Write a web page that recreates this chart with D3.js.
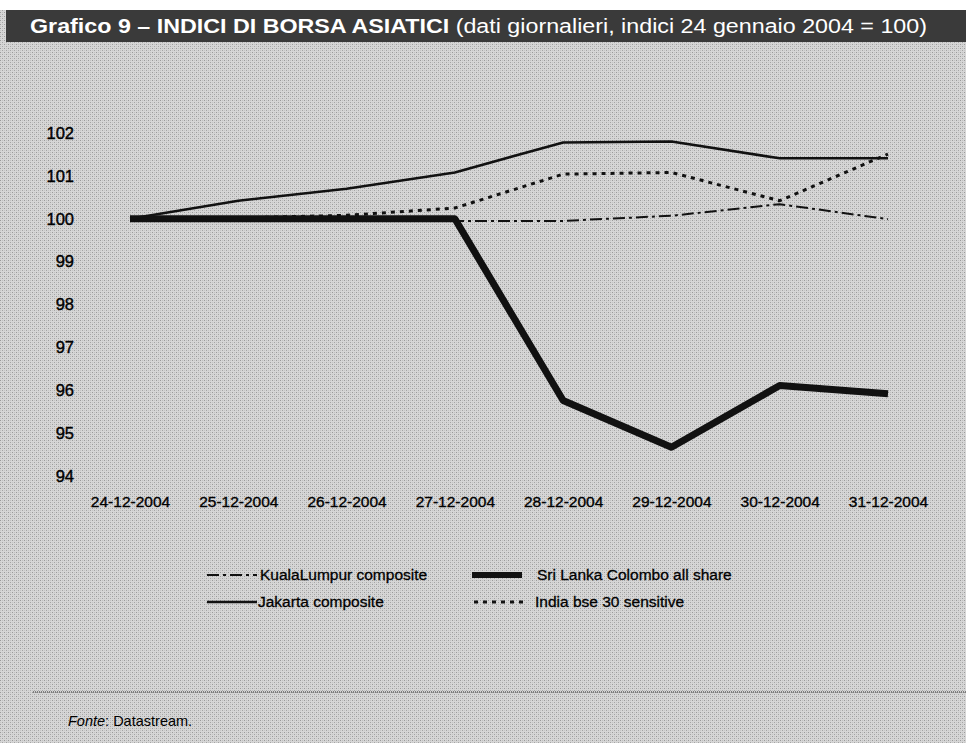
<!DOCTYPE html>
<html>
<head>
<meta charset="utf-8">
<script src="https://cdn.jsdelivr.net/npm/d3@7"></script>
<style>
  html, body { margin: 0; padding: 0; background: #ffffff; }
  svg { display: block; font-family: "Liberation Sans", Arial, Helvetica, sans-serif; }
</style>
</head>
<body>
<svg id="chart" width="966" height="743"></svg>
<script>
// ---- data ----
const dates = ["24-12-2004", "25-12-2004", "26-12-2004", "27-12-2004", "28-12-2004", "29-12-2004", "30-12-2004", "31-12-2004"];
const kualaLumpur = [100.0, 100.0, 99.97, 99.95, 99.95, 100.07, 100.34, 99.99];
const sriLanka = [100.0, 100.0, 100.0, 100.0, 95.76, 94.67, 96.11, 95.92];
const jakarta = [100.0, 100.42, 100.7, 101.08, 101.78, 101.8, 101.41, 101.41];
const india = [100.0, 100.02, 100.08, 100.25, 101.04, 101.08, 100.42, 101.51];
const yTicks = [94, 95, 96, 97, 98, 99, 100, 101, 102];

const titleBold = "Grafico 9 \u2013 INDICI DI BORSA ASIATICI";
const titleRest = " (dati giornalieri, indici 24 gennaio 2004 = 100)";

const series = [
  { name: "KualaLumpur composite", values: kualaLumpur, width: 2, dash: "12,4,3,4" },
  { name: "Sri Lanka Colombo all share", values: sriLanka, width: 7, dash: null },
  { name: "Jakarta composite", values: jakarta, width: 2.6, dash: null },
  { name: "India bse 30 sensitive", values: india, width: 3, dash: "4,5" }
];

const svg = d3.select("#chart");
const W = 966, H = 743;

// background (halftone grey)
const defs = svg.append("defs");
const pat = defs.append("pattern").attr("id", "dither").attr("width", 4).attr("height", 4)
  .attr("patternUnits", "userSpaceOnUse");
pat.append("rect").attr("width", 4).attr("height", 4).attr("fill", "#d6d6d6");
pat.append("rect").attr("x", 0).attr("y", 0).attr("width", 1).attr("height", 1).attr("fill", "#9a9a9a");
pat.append("rect").attr("x", 2).attr("y", 2).attr("width", 1).attr("height", 1).attr("fill", "#a4a4a4");
pat.append("rect").attr("x", 2).attr("y", 0).attr("width", 1).attr("height", 1).attr("fill", "#c0c0c0");
pat.append("rect").attr("x", 0).attr("y", 2).attr("width", 1).attr("height", 1).attr("fill", "#c4c4c4");

svg.append("rect").attr("x", 0).attr("y", 10).attr("width", W).attr("height", H - 10).attr("fill", "url(#dither)");

// title bar
svg.append("rect").attr("x", 6).attr("y", 10).attr("width", W - 6).attr("height", 32).attr("fill", "#3a3a3a");
const title = svg.append("text").attr("x", 30).attr("y", 33).attr("fill", "#ffffff").attr("font-size", 20)
  .attr("textLength", 897).attr("lengthAdjust", "spacingAndGlyphs");
title.append("tspan").attr("font-weight", "bold").text(titleBold);
title.append("tspan").text(titleRest);

// scales
const x = d3.scalePoint().domain(dates).range([130, 888]);
const y = d3.scaleLinear().domain([94, 102]).range([476, 133]);

// y axis labels
const yAxis = d3.axisLeft(y).tickValues(yTicks).tickSize(0).tickPadding(0).tickFormat(d3.format("d"));
const gy = svg.append("g").attr("transform", "translate(74,0)").call(yAxis);
gy.select(".domain").remove();
gy.selectAll("text").attr("font-size", 16.5).attr("fill", "#000").attr("stroke", "#000").attr("stroke-width", 0.4)
  .attr("font-family", "Liberation Sans, Arial, sans-serif");

// x axis labels
const xAxis = d3.axisBottom(x).tickSize(0).tickPadding(0);
const gx = svg.append("g").attr("transform", "translate(0,496)").call(xAxis);
gx.select(".domain").remove();
gx.selectAll("text").attr("font-size", 15.5).attr("fill", "#000").attr("stroke", "#000").attr("stroke-width", 0.35)
  .attr("font-family", "Liberation Sans, Arial, sans-serif");

// lines
const line = d3.line().x((d, i) => x(dates[i])).y(d => y(d));
const drawOrder = [1, 0, 3, 2];
drawOrder.forEach(k => {
  const s = series[k];
  svg.append("path").datum(s.values)
    .attr("d", line)
    .attr("fill", "none")
    .attr("stroke", "#111")
    .attr("stroke-width", s.width)
    .attr("stroke-linejoin", "round")
    .attr("stroke-dasharray", s.dash);
});

// legend
const legendPos = [
  { x: 207, y: 575, tx: 260 }, { x: 472, y: 575, tx: 537 }, { x: 207, y: 602, tx: 258 }, { x: 474, y: 602, tx: 535 }
];
series.forEach((s, i) => {
  const p = legendPos[i];
  svg.append("line").attr("x1", p.x).attr("x2", p.x + 50).attr("y1", p.y).attr("y2", p.y)
    .attr("stroke", "#111").attr("stroke-width", s.width === 7 ? 6 : s.width)
    .attr("stroke-dasharray", s.dash);
  svg.append("text").attr("x", p.tx).attr("y", p.y).attr("dy", "0.35em")
    .attr("font-size", 15.5).attr("fill", "#000").attr("stroke", "#000").attr("stroke-width", 0.3).text(s.name);
});

// footer
svg.append("line").attr("x1", 33).attr("x2", W).attr("y1", 692).attr("y2", 692)
  .attr("stroke", "#222").attr("stroke-width", 1.2).attr("stroke-dasharray", "1,1");
const foot = svg.append("text").attr("x", 68).attr("y", 726).attr("font-size", 14.5).attr("fill", "#000");
foot.append("tspan").attr("font-style", "italic").text("Fonte");
foot.append("tspan").text(": Datastream.");
</script>
</body>
</html>
